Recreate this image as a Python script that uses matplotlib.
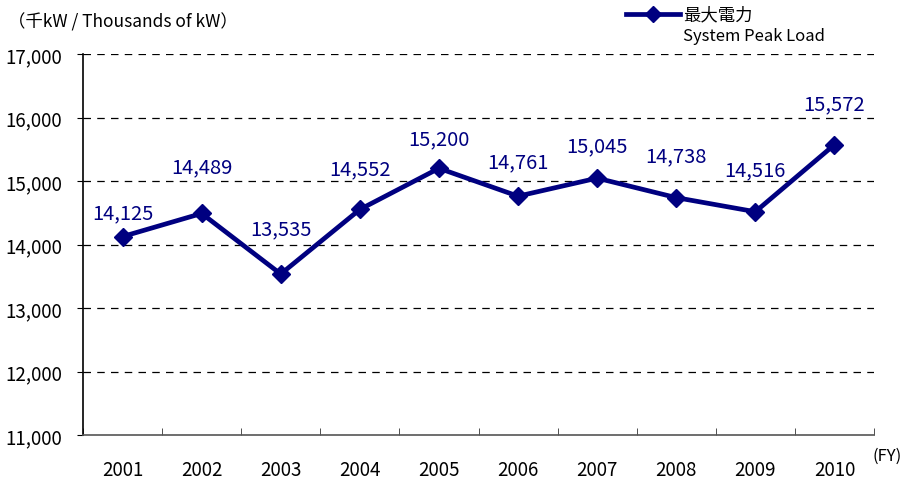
import matplotlib
matplotlib.use("Agg")
import matplotlib.pyplot as plt
from matplotlib.ticker import FuncFormatter, FixedLocator
from matplotlib.lines import Line2D
import numpy as np

years = ["2001", "2002", "2003", "2004", "2005", "2006", "2007", "2008", "2009", "2010"]
peak_load = [14125, 14489, 13535, 14552, 15200, 14761, 15045, 14738, 14516, 15572]
label_offsets = [24, 47, 45, 41, 30, 34, 32, 42, 42, 41]  # px above point (style)
y_ticks = [11000, 12000, 13000, 14000, 15000, 16000, 17000]

plt.rcParams['font.family'] = ['Noto Sans CJK JP', 'DejaVu Sans']
NAVY = "#000080"

fig = plt.figure(figsize=(9.03, 4.81), dpi=100)
ax = fig.add_axes([83/903, 1-436/481, (874-83)/903, (436-55)/481])

x = np.arange(len(years))
ax.plot(x, peak_load, color=NAVY, lw=3.4, marker='D', markersize=9.5, zorder=3)

for xi, v, off in zip(x, peak_load, label_offsets):
    ax.annotate(f"{v:,}", (xi, v), xytext=(0, off*0.72), textcoords='offset points',
                ha='center', va='center', color=NAVY, fontsize=14.5)

ax.set_xlim(-0.5, len(years)-0.5)
ax.set_ylim(y_ticks[0], y_ticks[-1])
ax.set_yticks(y_ticks)
ax.yaxis.set_major_formatter(FuncFormatter(lambda v, p: f"{int(v):,}"))
for t in y_ticks[1:]:
    ax.axhline(t, color='black', lw=0.9, ls=(0, (6, 5)), zorder=1)

ax.set_xticks(x)
ax.set_xticklabels(years)
ax.xaxis.set_minor_locator(FixedLocator(np.arange(-0.5, len(years), 1.0)))
ax.tick_params(axis='x', which='major', length=0, pad=17, labelsize=13.5)
ax.tick_params(axis='x', which='minor', length=5, direction='in', color='#333333')
ax.tick_params(axis='y', length=4, direction='out', pad=11, labelsize=13.5)

for s in ['top', 'right']:
    ax.spines[s].set_visible(False)
ax.spines['left'].set_color('black')
ax.spines['left'].set_linewidth(1.2)
ax.spines['bottom'].set_color('#555555')
ax.spines['bottom'].set_linewidth(1.2)

fig.text(8/903, 1-22/481, "（千kW / Thousands of kW）", fontsize=12.5, va='center', ha='left')
fig.text(873/903, 1-456/481, "(FY)", fontsize=12, va='center', ha='left')

# legend
leg_line = Line2D([626/903, 680/903], [1-15/481, 1-15/481], transform=fig.transFigure,
                  color=NAVY, lw=3.4)
leg_mark = Line2D([653/903], [1-15/481], transform=fig.transFigure, color=NAVY,
                  marker='D', markersize=8, lw=0)
fig.add_artist(leg_line)
fig.add_artist(leg_mark)
fig.text(683/903, 1-15/481, "最大電力", fontsize=12.5, va='center', ha='left')
fig.text(683/903, 1-37/481, "System Peak Load", fontsize=12, va='center', ha='left')

fig.savefig("out.png", dpi=100)
